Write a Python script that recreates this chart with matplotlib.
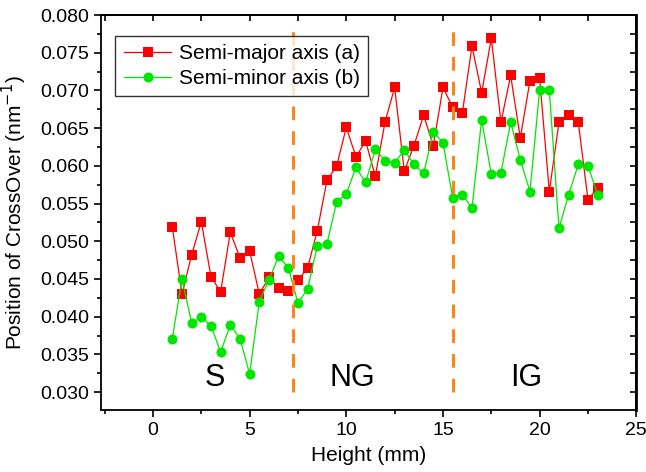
import matplotlib
matplotlib.use("Agg")
import matplotlib.pyplot as plt
from matplotlib.ticker import MultipleLocator

plt.rcParams["font.family"] = ["Liberation Sans", "DejaVu Sans"]

# heights in mm, one point every 0.5 mm
height = [1.0, 1.5, 2.0, 2.5, 3.0, 3.5, 4.0, 4.5, 5.0, 5.5, 6.0, 6.5, 7.0, 7.5,
          8.0, 8.5, 9.0, 9.5, 10.0, 10.5, 11.0, 11.5, 12.0, 12.5, 13.0, 13.5,
          14.0, 14.5, 15.0, 15.5, 16.0, 16.5, 17.0, 17.5, 18.0, 18.5, 19.0,
          19.5, 20.0, 20.5, 21.0, 21.5, 22.0, 22.5, 23.0]

semi_major = [0.0519, 0.0430, 0.0482, 0.0526, 0.0453, 0.0433, 0.0512, 0.0478,
              0.0487, 0.0430, 0.0452, 0.0438, 0.0434, 0.0448, 0.0465, 0.0514,
              0.0581, 0.0600, 0.0651, 0.0612, 0.0633, 0.0586, 0.0658, 0.0704,
              0.0593, 0.0627, 0.0667, 0.0627, 0.0704, 0.0678, 0.0670, 0.0759,
              0.0697, 0.0769, 0.0658, 0.0720, 0.0637, 0.0713, 0.0716, 0.0566,
              0.0658, 0.0667, 0.0658, 0.0555, 0.0571]

semi_minor = [0.0371, 0.0450, 0.0392, 0.0399, 0.0388, 0.0353, 0.0389, 0.0371,
              0.0324, 0.0420, 0.0449, 0.0480, 0.0465, 0.0418, 0.0437, 0.0494,
              0.0497, 0.0552, 0.0563, 0.0598, 0.0578, 0.0622, 0.0607, 0.0604,
              0.0621, 0.0602, 0.0590, 0.0645, 0.0631, 0.0558, 0.0562, 0.0544,
              0.0661, 0.0589, 0.0591, 0.0658, 0.0608, 0.0566, 0.0701, 0.0701,
              0.0517, 0.0562, 0.0602, 0.0600, 0.0562]

# region borders and labels
borders = [7.25, 15.5]
regions = ["S", "NG", "IG"]
region_x = [3.2, 10.3, 19.3]

fig = plt.figure(figsize=(6.46, 4.72), dpi=100)
ax = fig.add_axes([0.156, 0.131, 0.829, 0.837])

ax.plot(height, semi_major, color="#ff0000", lw=0.9, marker="s", ms=6.5,
        mec="#ff0000", mew=0, label="Semi-major axis (a)")
ax.plot(height, semi_minor, color="#00e600", lw=0.9, marker="o", ms=7.2,
        mec="#00e600", mew=0, label="Semi-minor axis (b)")

for b in borders:
    ax.plot([b, b], [0.0300, 0.0783], color="#f5891f", lw=2.2,
            dashes=(4.5, 3.6))

for name, xr in zip(regions, region_x):
    ax.text(xr, 0.0319, name, fontsize=22, ha="center", va="center")

ax.set_xlim(-2.7, 25)
ax.set_ylim(0.0276, 0.080)
ax.xaxis.set_major_locator(MultipleLocator(5))
ax.xaxis.set_minor_locator(MultipleLocator(2.5))
ax.yaxis.set_major_locator(MultipleLocator(0.005))
ax.yaxis.set_minor_locator(MultipleLocator(0.0025))
ax.yaxis.set_major_formatter(plt.FormatStrFormatter("%.3f"))

# origin style: outward ticks bottom/left, inward ticks on top/right
ax.tick_params(which="major", direction="out", length=5, width=1.2,
               labelsize=14)
ax.tick_params(which="minor", direction="out", length=3, width=1.2)

sec_x = ax.secondary_xaxis("top")
sec_x.xaxis.set_major_locator(MultipleLocator(2.5))
sec_x.tick_params(direction="in", length=4, width=1.2, labeltop=False)
sec_x.spines["top"].set_linewidth(1.3)
sec_y = ax.secondary_yaxis("right")
sec_y.yaxis.set_major_locator(MultipleLocator(0.0025))
sec_y.tick_params(direction="in", length=4, width=1.2, labelright=False)
sec_y.spines["right"].set_linewidth(2.0)

for s in ax.spines.values():
    s.set_linewidth(1.3)

ax.set_xlabel("Height (mm)", fontsize=15, labelpad=5)
ax.set_ylabel("Position of CrossOver (nm$^{-1}$)", fontsize=15, labelpad=8)

leg = ax.legend(loc="upper left", bbox_to_anchor=(0.027, 0.948), fontsize=15,
                handlelength=2.3, frameon=True, fancybox=False,
                borderpad=0.4, labelspacing=0.28, handletextpad=0.35,
                borderaxespad=0)
leg.get_frame().set_edgecolor("black")
leg.get_frame().set_linewidth(1.0)

fig.savefig("out.png", dpi=100)
